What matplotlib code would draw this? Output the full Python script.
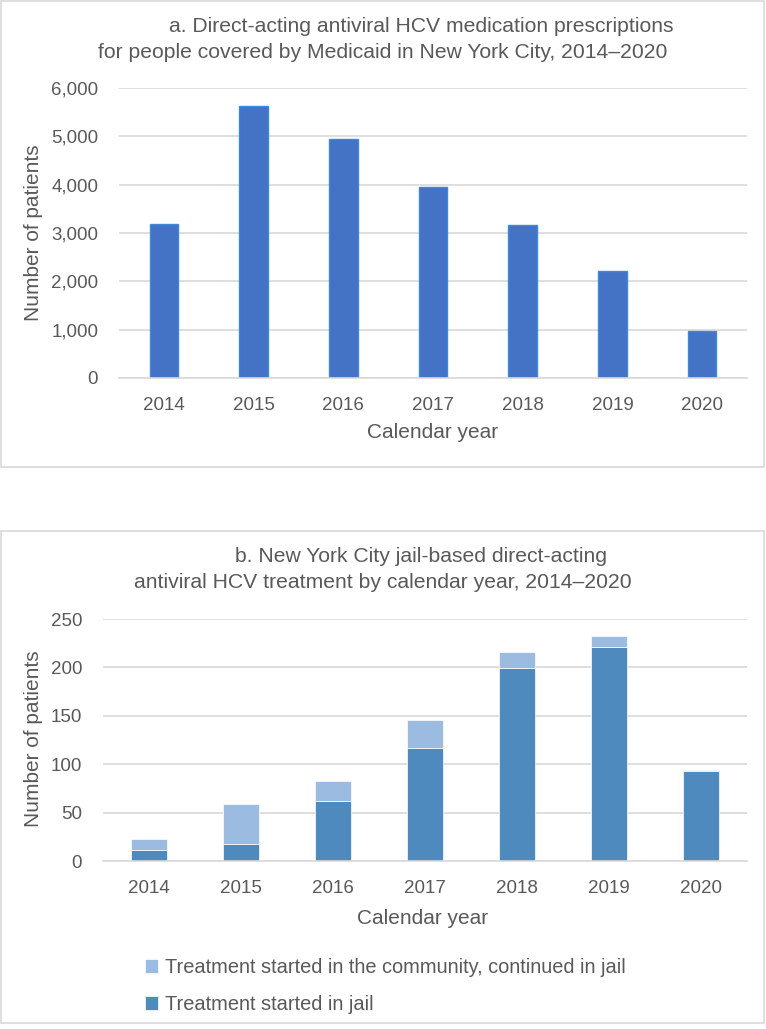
import matplotlib
matplotlib.use("Agg")
import matplotlib.pyplot as plt
from matplotlib.patches import Rectangle

plt.rcParams['font.family'] = ['Liberation Sans', 'DejaVu Sans']

years = ['2014', '2015', '2016', '2017', '2018', '2019', '2020']
medicaid = [3190, 5620, 4950, 3950, 3170, 2220, 980]
jail_started = [11, 18, 62, 117, 199, 221, 93]
community_started = [12, 41, 21, 29, 17, 11, 1]

txt = '#595959'
grid = '#D9D9D9'
W, H = 766, 1029

fig = plt.figure(figsize=(W / 100, H / 100), dpi=100)

def fx(x):
    return x / W

def fy(y):
    return 1 - y / H

# panel frames
for y0, y1 in [(1, 467), (531, 1023)]:
    fig.patches.append(Rectangle((fx(1), fy(y1)), fx(763), (y1 - y0) / H,
                                 transform=fig.transFigure, fill=False,
                                 edgecolor=grid, lw=1.2))

def style(ax, ymax, step):
    ax.set_ylim(0, ymax)
    ax.set_xlim(-0.5, 6.5)
    ax.set_yticks(range(0, ymax + 1, step))
    ax.grid(axis='y', color=grid, lw=1.2)
    ax.set_axisbelow(True)
    for s in ['top', 'right', 'left']:
        ax.spines[s].set_visible(False)
    ax.spines['bottom'].set_color(grid)
    ax.spines['bottom'].set_linewidth(1.2)
    ax.tick_params(axis='both', length=0, labelsize=13.5, colors=txt)
    ax.tick_params(axis='y', pad=15)
    ax.tick_params(axis='x', pad=14)

# ---- panel a
ax1 = fig.add_axes([fx(119), fy(378), fx(628), 290 / H])
ax1.bar(years, medicaid, width=0.32, color='#4472C4', edgecolor='#3C8ADB', lw=1)
style(ax1, 6000, 1000)
ax1.set_yticks(ax1.get_yticks())
ax1.set_yticklabels([f'{int(v):,}' for v in ax1.get_yticks()])

fig.text(fx(421), fy(26), 'a. Direct-acting antiviral HCV medication prescriptions',
         ha='center', va='center', fontsize=15.2, color=txt)
fig.text(fx(383), fy(52), 'for people covered by Medicaid in New York City, 2014\u20132020',
         ha='center', va='center', fontsize=15.2, color=txt)
fig.text(fx(34), fy(233), 'Number of patients', rotation=90, ha='center', va='center',
         fontsize=15, color=txt)
fig.text(fx(433), fy(433), 'Calendar year', ha='center', va='center',
         fontsize=15, color=txt)

# ---- panel b
ax2 = fig.add_axes([fx(103), fy(861), fx(644), 242 / H])
b1 = ax2.bar(years, jail_started, width=0.40, color='#4F8ABE',
             edgecolor='white', lw=0.5, label='Treatment started in jail')
b2 = ax2.bar(years, community_started, bottom=jail_started, width=0.40,
             color='#9BBBE0', edgecolor='white', lw=0.5,
             label='Treatment started in the community, continued in jail')
style(ax2, 250, 50)

fig.text(fx(421), fy(556), 'b. New York City jail-based direct-acting',
         ha='center', va='center', fontsize=15.2, color=txt)
fig.text(fx(383), fy(582), 'antiviral HCV treatment by calendar year, 2014\u20132020',
         ha='center', va='center', fontsize=15.2, color=txt)
fig.text(fx(34), fy(739), 'Number of patients', rotation=90, ha='center', va='center',
         fontsize=15, color=txt)
fig.text(fx(423), fy(918), 'Calendar year', ha='center', va='center',
         fontsize=15, color=txt)

leg = fig.legend([b2, b1], [b2.get_label(), b1.get_label()],
                 loc='upper left', bbox_to_anchor=(fx(145), fy(958)),
                 frameon=False, fontsize=14.4, handlelength=0.65, handleheight=0.65,
                 handletextpad=0.35, labelspacing=0.9, borderpad=0, borderaxespad=0)
for t in leg.get_texts():
    t.set_color(txt)

fig.savefig('out.png', dpi=100)
